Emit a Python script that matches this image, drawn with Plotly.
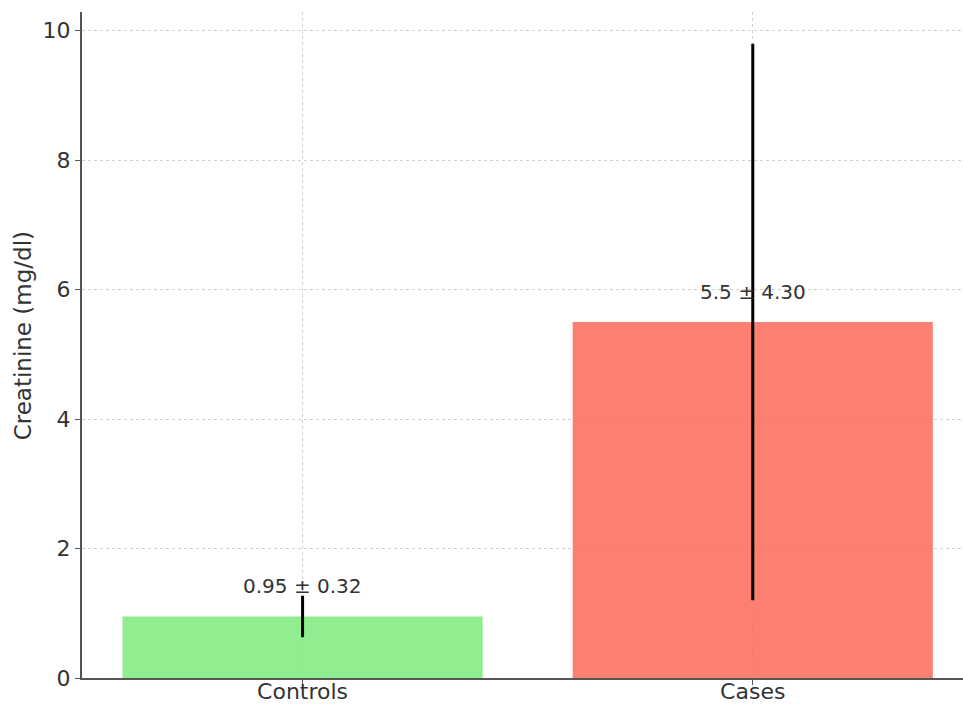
import plotly.graph_objects as go

categories = ["Controls", "Cases"]
means = [0.95, 5.5]
sds = [0.32, 4.30]
labels = ["0.95 ± 0.32", "5.5 ± 4.30"]
bar_colors = ["rgba(124,235,124,0.85)", "rgba(250,106,89,0.85)"]
y_ticks = [0, 2, 4, 6, 8, 10]

FONT = "DejaVu Sans"
fig = go.Figure()
fig.add_trace(go.Bar(
    x=[0, 1], y=means, width=0.8,
    marker=dict(color=bar_colors, line=dict(width=0)),
    error_y=dict(type="data", array=sds, visible=True, color="black",
                 thickness=3, width=0),
    showlegend=False,
))
for i, (m, t) in enumerate(zip(means, labels)):
    fig.add_annotation(x=i, y=m + 0.47, text=t, showarrow=False,
                       xanchor="center", yanchor="middle",
                       font=dict(family=FONT, size=20, color="#333333"))
fig.add_annotation(xref="paper", yref="paper", x=0, y=0.513, xshift=-59,
                   text="Creatinine (mg/dl)", textangle=-90, showarrow=False,
                   xanchor="center", yanchor="middle",
                   font=dict(family=FONT, size=23, color="#333333"))
fig.update_layout(
    template="none",
    width=963, height=706,
    margin=dict(l=82, r=0, t=12, b=28, autoexpand=False),
    paper_bgcolor="white", plot_bgcolor="white",
    font=dict(family=FONT, color="#333333"),
    xaxis=dict(range=[-0.49, 1.467], tickvals=[0, 1], ticktext=categories,
               automargin=False, ticklabelstandoff=-12,
               showline=True, linecolor="#555555", linewidth=2,
               ticks="outside", ticklen=5, tickcolor="#555555",
               showgrid=True, gridcolor="#d0d0d0", griddash="dot", gridwidth=1,
               zeroline=False, tickfont=dict(size=22, family=FONT, color="#333333")),
    yaxis=dict(range=[0, 10.29], tickvals=y_ticks,
               automargin=False,
               showline=True, linecolor="#555555", linewidth=2,
               ticks="outside", ticklen=5, tickcolor="#555555",
               showgrid=True, gridcolor="#d0d0d0", griddash="dot", gridwidth=1,
               zeroline=False, tickfont=dict(size=22, family=FONT, color="#333333")),
)
fig.write_html("out.html")
